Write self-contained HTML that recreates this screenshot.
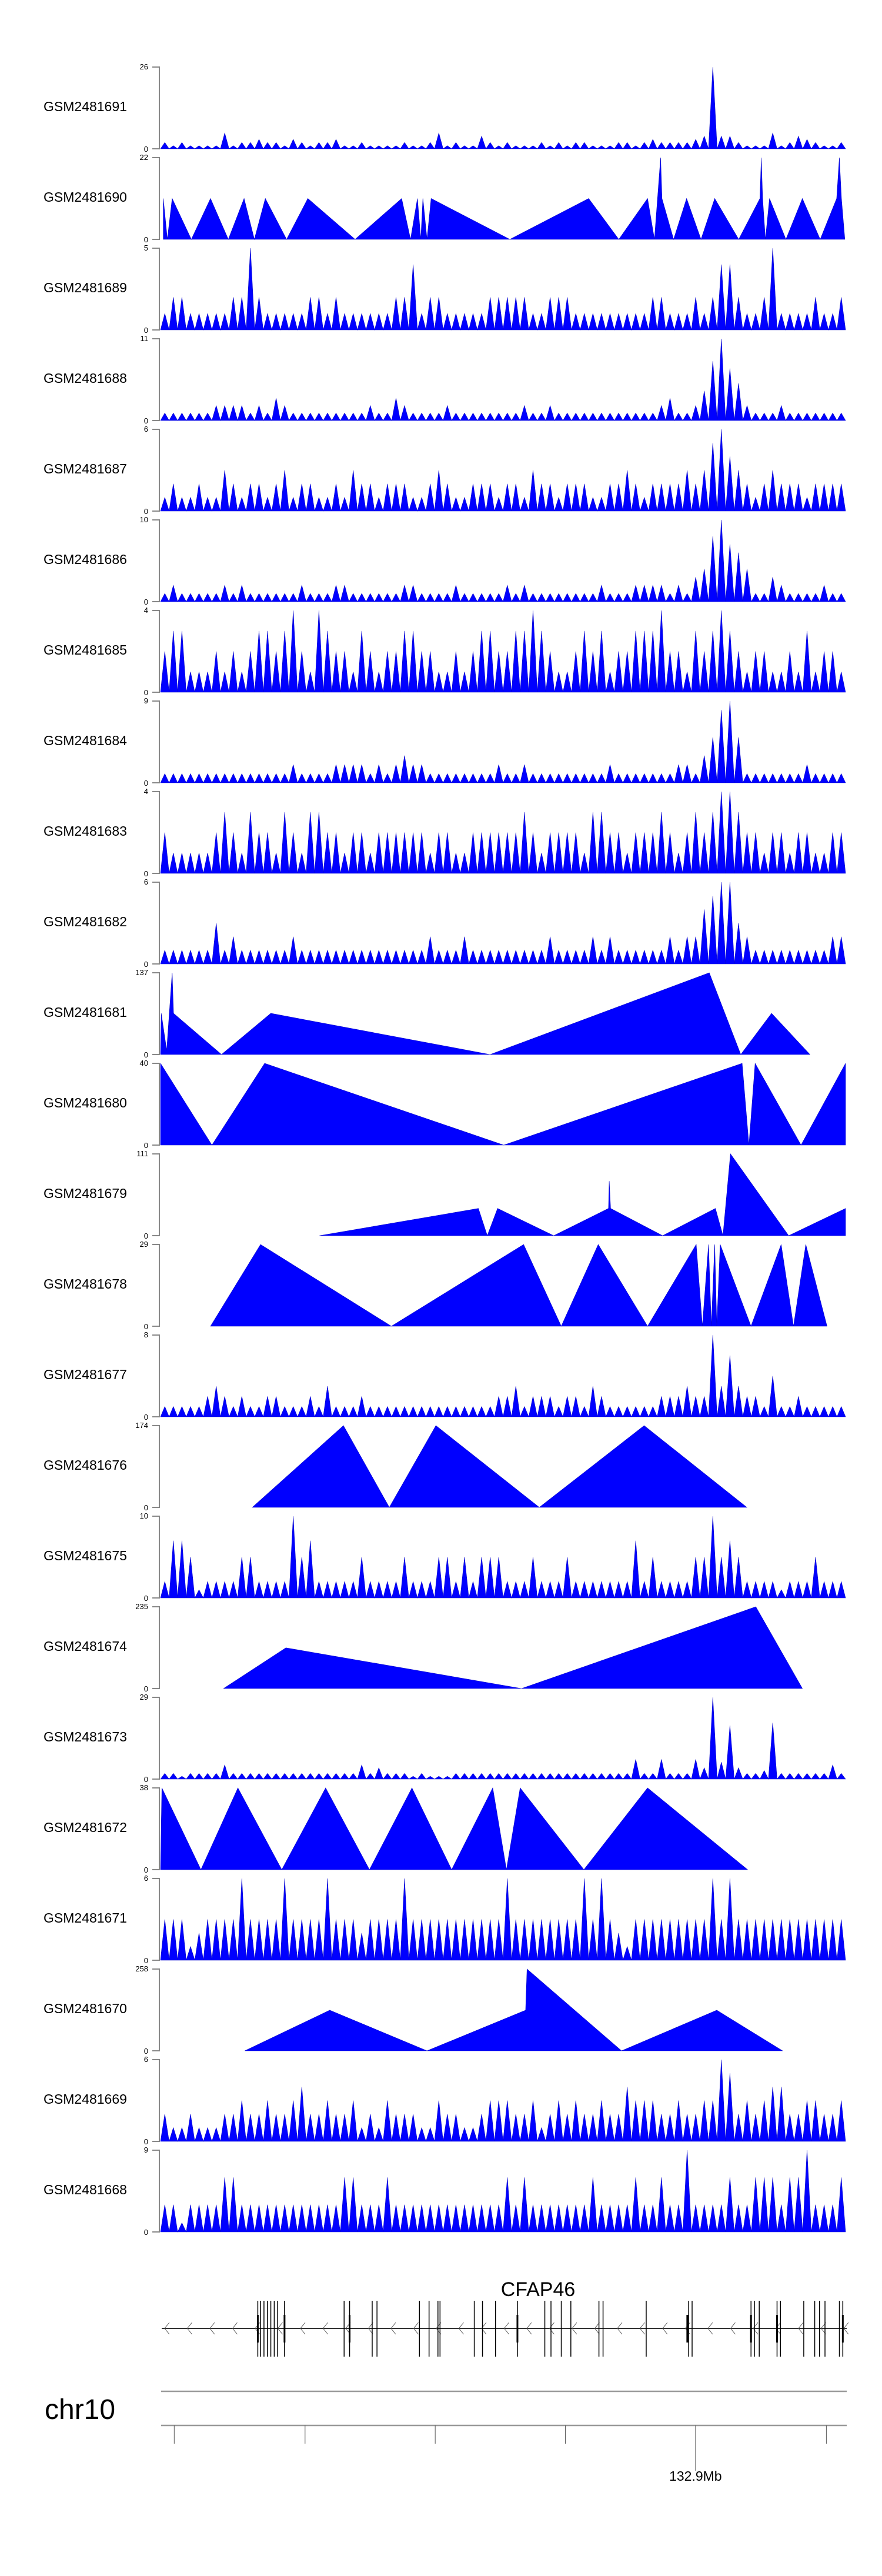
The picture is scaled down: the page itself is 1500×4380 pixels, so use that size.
<!DOCTYPE html>
<html><head><meta charset="utf-8"><title>Coverage tracks</title>
<style>html,body{margin:0;padding:0;background:#fff}svg{display:block}</style></head>
<body>
<svg id="chart" xmlns="http://www.w3.org/2000/svg" width="1500" height="4380" viewBox="0 0 1500 4380" font-family="Liberation Sans, Arial, sans-serif"></svg>
<script>
// ---- data ----
const trackNames=["GSM2481691","GSM2481690","GSM2481689","GSM2481688","GSM2481687","GSM2481686","GSM2481685","GSM2481684","GSM2481683","GSM2481682","GSM2481681","GSM2481680","GSM2481679","GSM2481678","GSM2481677","GSM2481676","GSM2481675","GSM2481674","GSM2481673","GSM2481672","GSM2481671","GSM2481670","GSM2481669","GSM2481668"];
const trackMax=[26,22,5,11,6,10,4,9,4,6,137,40,111,29,8,174,10,235,29,38,6,258,6,9];
// dense tracks: evenly spaced bins across region
const d1691=[2,1,2,1,1,1,1,5,1,2,2,3,2,2,1,3,2,1,2,2,3,1,1,2,1,1,1,1,2,1,1,2,5,1,2,1,1,4,2,1,2,1,1,1,2,1,2,1,2,2,1,1,1,2,2,1,2,3,2,2,2,2,3,4,26,4,4,2,1,1,1,5,1,2,4,3,2,1,1,2];
const d1689=[1,2,2,1,1,1,1,1,2,2,5,2,1,1,1,1,1,2,2,1,2,1,1,1,1,1,1,2,2,4,1,2,2,1,1,1,1,1,2,2,2,2,2,1,1,2,2,2,1,1,1,1,1,1,1,1,1,2,2,1,1,1,2,1,2,4,4,2,1,1,2,5,1,1,1,1,2,1,1,2];
const d1688=[1,1,1,1,1,1,2,2,2,2,1,2,1,3,2,1,1,1,1,1,1,1,1,1,2,1,1,3,2,1,1,1,1,2,1,1,1,1,1,1,1,1,2,1,1,2,1,1,1,1,1,1,1,1,1,1,1,1,2,3,1,1,2,4,8,11,7,5,2,1,1,1,2,1,1,1,1,1,1,1];
const d1687=[1,2,1,1,2,1,1,3,2,1,2,2,1,2,3,1,2,2,1,1,2,1,3,2,2,1,2,2,2,1,1,2,3,2,1,1,2,2,2,1,2,2,1,3,2,2,1,2,2,2,1,1,2,2,3,2,1,2,2,2,2,3,2,3,5,6,4,3,2,1,2,3,2,2,2,1,2,2,2,2];
const d1686=[1,2,1,1,1,1,1,2,1,2,1,1,1,1,1,1,2,1,1,1,2,2,1,1,1,1,1,1,2,2,1,1,1,1,2,1,1,1,1,1,2,1,2,1,1,1,1,1,1,1,1,2,1,1,1,2,2,2,2,1,2,1,3,4,8,10,7,6,4,1,1,3,2,1,1,1,1,2,1,1];
const d1685=[2,3,3,1,1,1,2,1,2,1,2,3,3,2,3,4,2,1,4,3,2,2,1,3,2,1,2,2,3,3,2,2,1,1,2,1,2,3,3,2,2,3,3,4,3,2,1,1,2,3,2,3,1,2,2,3,3,3,4,2,2,1,3,2,3,4,3,2,1,2,2,1,1,2,1,3,1,2,2,1];
const d1684=[1,1,1,1,1,1,1,1,1,1,1,1,1,1,1,2,1,1,1,1,2,2,2,2,1,2,1,2,3,2,2,1,1,1,1,1,1,1,1,2,1,1,2,1,1,1,1,1,1,1,1,1,2,1,1,1,1,1,1,1,2,2,1,3,5,8,9,5,1,1,1,1,1,1,1,2,1,1,1,1];
const d1683=[2,1,1,1,1,1,2,3,2,1,3,2,2,1,3,2,1,3,3,2,2,1,2,2,1,2,2,2,2,2,2,1,2,2,1,1,2,2,2,2,2,2,3,2,1,2,2,2,2,1,3,3,2,2,1,2,2,2,3,2,1,2,3,2,3,4,4,3,2,2,1,2,2,1,2,2,1,1,2,2];
const d1682=[1,1,1,1,1,1,3,1,2,1,1,1,1,1,1,2,1,1,1,1,1,1,1,1,1,1,1,1,1,1,1,2,1,1,1,2,1,1,1,1,1,1,1,1,1,2,1,1,1,1,2,1,2,1,1,1,1,1,1,2,1,2,2,4,5,6,6,3,2,1,1,1,1,1,1,1,1,1,2,2];
const d1677=[1,1,1,1,1,2,3,2,1,2,1,1,2,2,1,1,1,2,1,3,1,1,1,2,1,1,1,1,1,1,1,1,1,1,1,1,1,1,1,2,2,3,1,2,2,2,1,2,2,1,3,2,1,1,1,1,1,1,2,2,2,3,2,2,8,3,6,3,2,2,1,4,1,1,2,1,1,1,1,1];
const d1675=[2,7,7,5,1,2,2,2,2,5,5,2,2,2,2,10,5,7,2,2,2,2,2,5,2,2,2,2,5,2,2,2,5,5,2,5,2,5,5,5,2,2,2,5,2,2,2,5,2,2,2,2,2,2,2,7,2,5,2,2,2,2,5,5,10,5,7,5,2,2,2,2,1,2,2,2,5,2,2,2];
const d1673=[2,2,1,2,2,2,2,5,2,2,2,2,2,2,2,2,2,2,2,2,2,2,2,5,2,4,2,2,2,1,2,1,1,1,2,2,2,2,2,2,2,2,2,2,2,2,2,2,2,2,2,2,2,2,2,7,2,2,7,2,2,2,7,4,29,6,19,4,2,2,3,20,2,2,2,2,2,2,5,2];
const d1671=[3,3,3,1,2,3,3,3,3,6,3,3,3,3,6,3,3,3,3,6,3,3,3,2,3,3,3,3,6,3,3,3,3,3,3,3,3,3,3,3,6,3,3,3,3,3,3,3,3,6,3,6,3,2,1,3,3,3,3,3,3,3,3,3,6,3,6,3,3,3,3,3,3,3,3,3,3,3,3,3];
const d1669=[2,1,1,2,1,1,1,2,2,3,2,2,3,2,2,3,4,2,2,3,2,2,3,1,2,1,3,2,2,2,1,1,3,2,2,1,1,2,3,3,3,2,2,3,1,2,3,2,3,2,2,3,2,2,4,3,3,3,2,2,3,2,2,3,3,6,5,2,3,2,3,4,4,2,2,3,3,2,2,3];
const d1668=[3,3,1,3,3,3,3,6,6,3,3,3,3,3,3,3,3,3,3,3,3,6,6,3,3,3,6,3,3,3,3,3,3,3,3,3,3,3,3,3,6,3,6,3,3,3,3,3,3,3,6,3,3,3,3,6,3,3,6,3,3,9,3,3,3,3,6,3,3,6,6,6,3,6,6,9,3,3,3,6];
// sparse tracks: vertices (genomic bin position 0-1000, value)
const s1690x=[4,10,17,45,73,99,122,137,153,184,215,284,352,365,375,380,383,389,395,510,625,669,711,721,730,732,749,768,789,809,844,875,877,879,883,889,913,937,963,987,991,994,999];
const s1690y=[11,0,11,0,11,0,11,0,11,0,11,0,11,0,11,0,11,0,11,0,11,0,11,0,22,11,0,11,0,11,0,11,22,11,0,11,0,11,0,11,22,11,0];
const s1681x=[0,1,9,17,19,89,161,481,801,847,892,948];
const s1681y=[0,69,7,137,69,0,69,0,137,0,69,0];
const s1680x=[0,75,152,501,849,859,868,935,1000];
const s1680y=[40,0,40,0,40,0,40,0,40];
const s1679x=[232,464,477,492,574,654,655,657,733,810,821,832,917,1000];
const s1679y=[0,37,0,37,0,37,74,37,0,37,0,111,0,37];
const s1678x=[73,146,337,530,585,639,711,782,791,800,804,809,812,817,862,906,924,942,973];
const s1678y=[0,29,0,29,0,29,0,29,0,29,0,29,0,29,0,29,0,29,0];
const s1676x=[134,267,334,402,553,706,856];
const s1676y=[0,174,0,174,0,174,0];
const s1674x=[92,183,527,869,937];
const s1674y=[0,117,0,235,0];
const s1672x=[0,2,59,113,177,241,305,367,425,485,505,525,618,711,857];
const s1672y=[0,38,0,38,0,38,0,38,0,38,0,38,0,38,0];
const s1670x=[123,247,389,533,535,673,812,908];
const s1670y=[0,128,0,128,258,0,128,0];
// gene model
const exonPos=[142,146,151,156,161,166,171,181,268,276,309,316,378,392,405,408,458,470,489,521,561,570,585,599,640,646,709,771,776,862,867,874,900,905,939,955,962,970,991,996];
const exonThick=[142,181,276,521,769,862,900,996];
const axisTicks=[20,211,401,591,781,972];
const axisTickLabels=["","","","","132.9Mb",""];

const tracks={"GSM2481691":d1691,"GSM2481690":[s1690x,s1690y],"GSM2481689":d1689,"GSM2481688":d1688,"GSM2481687":d1687,"GSM2481686":d1686,"GSM2481685":d1685,"GSM2481684":d1684,"GSM2481683":d1683,"GSM2481682":d1682,"GSM2481681":[s1681x,s1681y],"GSM2481680":[s1680x,s1680y],"GSM2481679":[s1679x,s1679y],"GSM2481678":[s1678x,s1678y],"GSM2481677":d1677,"GSM2481676":[s1676x,s1676y],"GSM2481675":d1675,"GSM2481674":[s1674x,s1674y],"GSM2481673":d1673,"GSM2481672":[s1672x,s1672y],"GSM2481671":d1671,"GSM2481670":[s1670x,s1670y],"GSM2481669":d1669,"GSM2481668":d1668};

// ---- drawing ----
const NS="http://www.w3.org/2000/svg";
const svg=document.getElementById('chart');
const X0=273,X1=1438;
function xScale(d){return X0+(X1-X0)*d/1000;}
const TOP0=114,PITCH=154,TH=139;
function mk(tag,attrs,parent){const e=document.createElementNS(NS,tag);for(const k in attrs)e.setAttribute(k,attrs[k]);(parent||svg).appendChild(e);return e;}

trackNames.forEach((name,i)=>{
  const top=TOP0+i*PITCH,bot=top+TH,ymax=trackMax[i];
  const yScale=v=>bot-(v/ymax)*TH;
  const g=mk('g',{});
  
  
  const lab=mk('text',{x:74,y:top+75,'font-size':23,fill:'#000'},g);
  lab.textContent=name;
  
  
  const ax=mk('path',{d:`M259 ${top}H271V${bot}H259`,stroke:'#888',fill:'none','stroke-width':2},g);
  
  
  const t1=mk('text',{x:252,y:top+4,'font-size':13,'text-anchor':'end',fill:'#000'},g);t1.textContent=ymax;
  
  
  const t0=mk('text',{x:252,y:bot+5,'font-size':13,'text-anchor':'end',fill:'#000'},g);t0.textContent='0';
  
  
  const data=tracks[name];
  let pts=[];
  if(Array.isArray(data[0])){
    const xs=data[0],ys=data[1];
    pts.push([xScale(xs[0]),bot]);
    xs.forEach((x,k)=>pts.push([xScale(x),yScale(ys[k])]));
    pts.push([xScale(xs[xs.length-1]),bot]);
  }else{
    const n=data.length,step=1000/n;
    data.forEach((v,k)=>{const c=step*(k+0.5);pts.push([xScale(c-step/2),bot]);pts.push([xScale(c),yScale(v)]);});
    pts.push([xScale(1000),bot]);
  }
  const poly=mk('polygon',{points:pts.map(p=>p[0].toFixed(1)+','+p[1].toFixed(1)).join(' '),fill:'#0000ff',stroke:'#0000cc','stroke-width':0.6},g);
  
  
});

// gene track
const gg=mk('g',{});


const gname=mk('text',{x:915,y:3904,'font-size':34,'text-anchor':'middle',fill:'#000'},gg);gname.textContent='CFAP46';


const gl=mk('line',{x1:275,y1:3959,x2:1440,y2:3959,stroke:'#333','stroke-width':2},gg);


let chev='';
for(let x=280;x<1440;x+=38.5){chev+=`M${x+8} 3949L${x} 3959L${x+8} 3969`;}
const ch=mk('path',{d:chev,stroke:'#555',fill:'none','stroke-width':1},gg);


exonPos.forEach(p=>{
  const e=mk('line',{x1:xScale(p),y1:3912,x2:xScale(p),y2:4007,stroke:'#000','stroke-width':1.5},gg);
  
  
});
exonThick.forEach(p=>{
  const e=mk('rect',{x:xScale(p)-1.5,y:3936,width:3,height:47,fill:'#000'},gg);
  
  
});

// genome axis
const ag=mk('g',{});


const chr=mk('text',{x:76,y:4113,'font-size':48,fill:'#000'},ag);chr.textContent='chr10';


const l1=mk('line',{x1:274,y1:4066,x2:1440,y2:4066,stroke:'#999','stroke-width':2.5},ag);


const l2=mk('line',{x1:274,y1:4124,x2:1440,y2:4124,stroke:'#999','stroke-width':2.5},ag);


axisTicks.forEach((t,k)=>{
  const lbl=axisTickLabels[k];
  const tk=mk('line',{x1:xScale(t),y1:4124,x2:xScale(t),y2:lbl?4201:4155,stroke:'#555','stroke-width':1},ag);
  
  
  if(lbl){
    const tl=mk('text',{x:xScale(t),y:4218,'font-size':23,'text-anchor':'middle',fill:'#000'},ag);tl.textContent=lbl;
    
    
  }
});
</script>
</body></html>
